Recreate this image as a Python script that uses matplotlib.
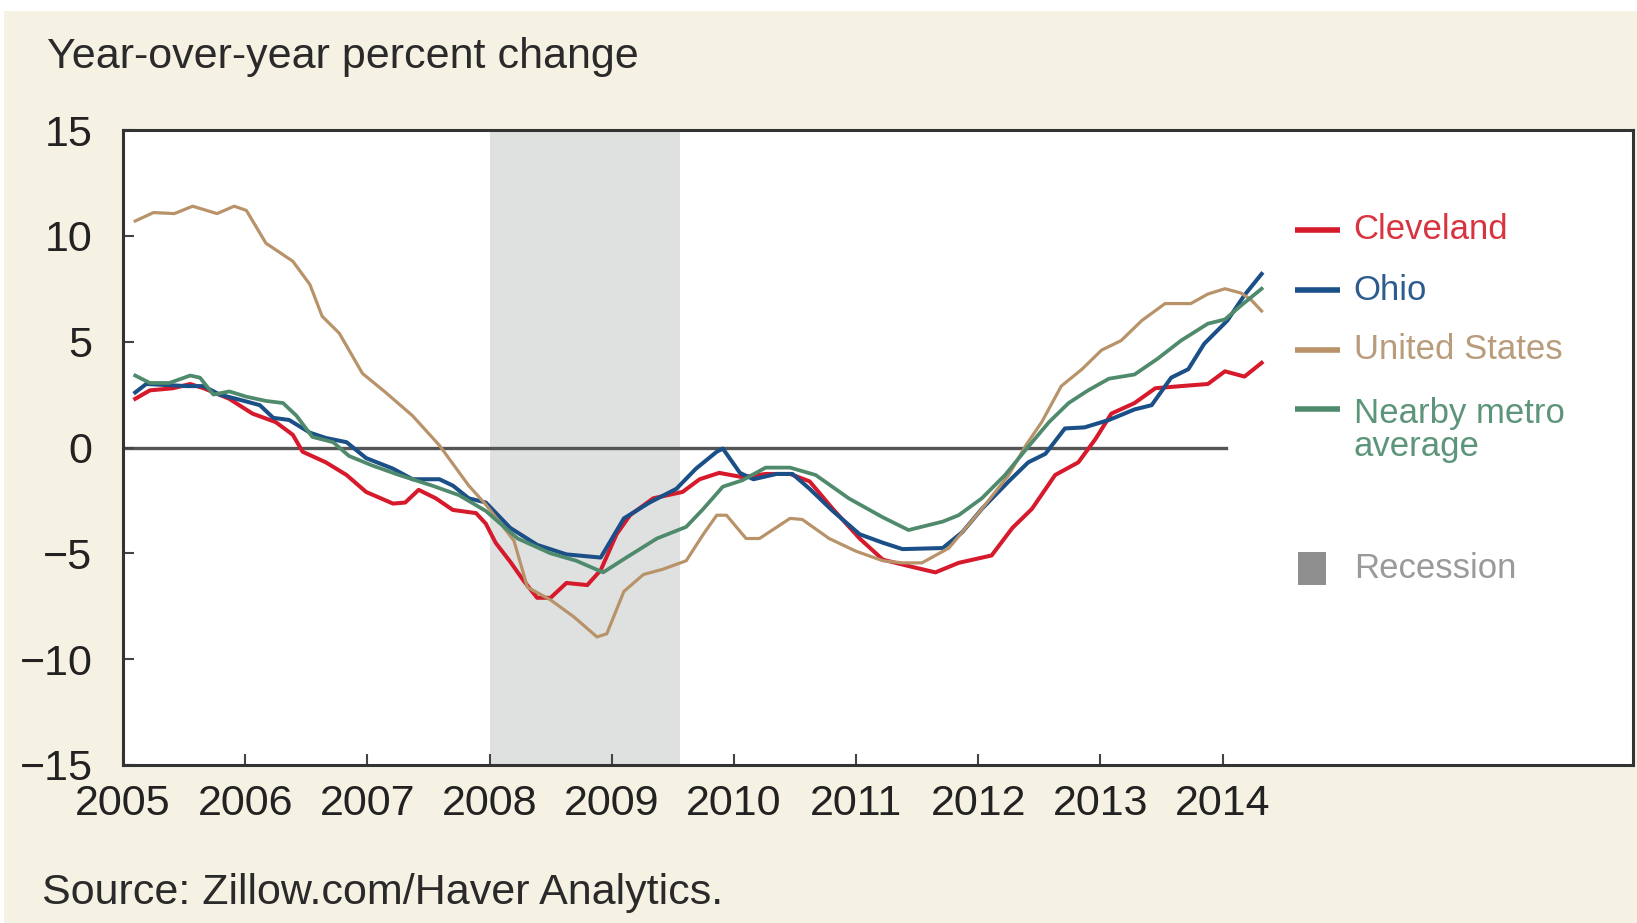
import matplotlib.pyplot as plt
from matplotlib.patches import Rectangle

# decimal years and year-over-year % change
cle_x = [2005.10, 2005.22, 2005.41, 2005.55, 2005.66, 2005.87, 2006.06, 2006.25, 2006.39, 2006.47,
         2006.66, 2006.83, 2006.99, 2007.21, 2007.31, 2007.42, 2007.56, 2007.70, 2007.89, 2007.97,
         2008.05, 2008.17, 2008.28, 2008.39, 2008.50, 2008.63, 2008.80, 2008.91, 2009.04, 2009.15,
         2009.34, 2009.58, 2009.72, 2009.88, 2010.07, 2010.26, 2010.46, 2010.62, 2010.81, 2011.03,
         2011.22, 2011.43, 2011.65, 2011.84, 2012.11, 2012.28, 2012.44, 2012.63, 2012.82, 2012.96,
         2013.09, 2013.28, 2013.45, 2013.66, 2013.88, 2014.02, 2014.18, 2014.32]
cle_y = [2.3, 2.7, 2.8, 3.0, 2.8, 2.3, 1.6, 1.2, 0.6, -0.2,
         -0.7, -1.3, -2.1, -2.65, -2.6, -2.0, -2.4, -2.95, -3.1, -3.6,
         -4.5, -5.4, -6.3, -7.1, -7.1, -6.4, -6.5, -5.8, -4.1, -3.2,
         -2.4, -2.1, -1.5, -1.2, -1.4, -1.25, -1.25, -1.6, -2.9, -4.3,
         -5.3, -5.6, -5.9, -5.45, -5.1, -3.8, -2.9, -1.3, -0.7, 0.4,
         1.6, 2.1, 2.8, 2.9, 3.0, 3.6, 3.35, 4.0]

ohio_x = [2005.10, 2005.19, 2005.36, 2005.52, 2005.66, 2005.79, 2005.96, 2006.12, 2006.23, 2006.36,
          2006.53, 2006.66, 2006.83, 2006.99, 2007.21, 2007.37, 2007.59, 2007.70, 2007.83, 2007.97,
          2008.17, 2008.39, 2008.63, 2008.91, 2009.10, 2009.31, 2009.53, 2009.69, 2009.86, 2009.91,
          2010.05, 2010.16, 2010.35, 2010.48, 2010.62, 2010.81, 2011.03, 2011.22, 2011.38, 2011.71,
          2011.87, 2012.03, 2012.25, 2012.41, 2012.55, 2012.71, 2012.87, 2013.07, 2013.28, 2013.42,
          2013.58, 2013.72, 2013.85, 2014.04, 2014.18, 2014.32]
ohio_y = [2.6, 3.0, 2.95, 2.9, 2.9, 2.5, 2.25, 2.0, 1.4, 1.3,
          0.7, 0.45, 0.25, -0.5, -1.0, -1.5, -1.5, -1.8, -2.4, -2.6,
          -3.8, -4.6, -5.05, -5.2, -3.35, -2.6, -1.95, -1.0, -0.2, -0.05,
          -1.2, -1.5, -1.25, -1.25, -1.95, -3.0, -4.1, -4.5, -4.8, -4.75,
          -4.0, -2.9, -1.6, -0.7, -0.3, 0.9, 0.95, 1.3, 1.8, 2.0,
          3.3, 3.7, 4.9, 6.0, 7.2, 8.2]

us_x = [2005.10, 2005.25, 2005.42, 2005.57, 2005.77, 2005.91, 2006.01, 2006.17, 2006.39, 2006.53,
        2006.63, 2006.77, 2006.96, 2007.15, 2007.37, 2007.59, 2007.83, 2007.97, 2008.20, 2008.31,
        2008.50, 2008.69, 2008.88, 2008.96, 2009.10, 2009.26, 2009.42, 2009.61, 2009.75, 2009.86,
        2009.94, 2010.10, 2010.21, 2010.46, 2010.56, 2010.78, 2011.00, 2011.22, 2011.38, 2011.54,
        2011.76, 2012.03, 2012.25, 2012.39, 2012.52, 2012.68, 2012.85, 2013.01, 2013.17, 2013.34,
        2013.53, 2013.74, 2013.88, 2014.02, 2014.15, 2014.23, 2014.32]
us_y = [10.7, 11.1, 11.05, 11.4, 11.05, 11.4, 11.2, 9.65, 8.8, 7.7,
        6.2, 5.4, 3.5, 2.6, 1.5, 0.1, -1.8, -2.7, -4.4, -6.6,
        -7.2, -8.0, -8.95, -8.8, -6.8, -6.0, -5.75, -5.35, -4.1, -3.2,
        -3.2, -4.3, -4.3, -3.35, -3.4, -4.3, -4.9, -5.35, -5.45, -5.45,
        -4.75, -2.9, -1.3, 0.1, 1.2, 2.9, 3.7, 4.6, 5.05, 6.0,
        6.8, 6.8, 7.25, 7.5, 7.3, 7.0, 6.45]

metro_x = [2005.10, 2005.22, 2005.38, 2005.55, 2005.63, 2005.74, 2005.87, 2006.01, 2006.17, 2006.31,
           2006.42, 2006.55, 2006.72, 2006.85, 2007.04, 2007.26, 2007.53, 2007.75, 2007.97, 2008.23,
           2008.50, 2008.71, 2008.93, 2009.12, 2009.37, 2009.61, 2009.75, 2009.91, 2010.07, 2010.26,
           2010.46, 2010.67, 2010.94, 2011.22, 2011.43, 2011.71, 2011.84, 2012.03, 2012.22, 2012.39,
           2012.58, 2012.74, 2012.90, 2013.07, 2013.28, 2013.47, 2013.66, 2013.88, 2014.02, 2014.15,
           2014.32]
metro_y = [3.4, 3.05, 3.05, 3.4, 3.3, 2.5, 2.65, 2.4, 2.2, 2.1,
           1.5, 0.5, 0.25, -0.4, -0.85, -1.3, -1.8, -2.25, -3.0, -4.3,
           -5.0, -5.35, -5.9, -5.2, -4.3, -3.75, -2.9, -1.85, -1.55, -0.95,
           -0.95, -1.3, -2.4, -3.3, -3.9, -3.5, -3.2, -2.4, -1.3, -0.1,
           1.2, 2.1, 2.7, 3.25, 3.45, 4.2, 5.05, 5.85, 6.05, 6.7,
           7.5]

recession = (2008.0, 2009.56)
zero_end = 2014.03
year_ticks = list(range(2005, 2015))
y_ticks = [-15, -10, -5, 0, 5, 10, 15]

labels = ['Cleveland', 'Ohio', 'United States', 'Nearby metro\naverage']
colors = ['#d61a2c', '#1b4f87', '#b8936a', '#4f8a6c']
text_colors = ['#d8343f', '#2d5c8e', '#b89c7c', '#5d957a']

font = ['Liberation Sans', 'DejaVu Sans']

fig = plt.figure(figsize=(16.37, 9.23), dpi=100, facecolor='white')
fig.patches.append(Rectangle((4 / 1637, 0), 1, 1 - 11 / 923, transform=fig.transFigure,
                             facecolor='#f5f1e3', edgecolor='none', zorder=-10))

ax = fig.add_axes([123 / 1637, 1 - 765 / 923, 1510 / 1637, 635 / 923])
ax.set_facecolor('white')

ax.axvspan(recession[0], recession[1], color='#dfe1e1', zorder=0, lw=0)
ax.plot([2005.0, zero_end], [0, 0], color='#555555', lw=2.4, zorder=1)

series = [(cle_x, cle_y), (ohio_x, ohio_y), (us_x, us_y), (metro_x, metro_y)]
widths = [2.9, 2.9, 2.3, 2.7]
order = [2, 3, 1, 0]
for i in order:
    ax.plot(series[i][0], series[i][1], color=colors[i], lw=widths[i], zorder=3 + i)

ax.set_xlim(2005.04, 2017.36)
ax.set_ylim(-15, 15)
ax.set_xticks(year_ticks)
ax.set_xticklabels([str(y) for y in year_ticks], family=font, fontsize=31, color='#222222')
ax.set_yticks(y_ticks)
ax.set_yticklabels([str(v).replace('-', '\u2212') for v in y_ticks], family=font,
                   fontsize=31, color='#222222')
ax.tick_params(axis='both', direction='in', length=8, width=1.5, color='#444444')
ax.tick_params(axis='x', pad=14)
ax.tick_params(axis='y', pad=22)
for s in ax.spines.values():
    s.set_color('#333333')
    s.set_linewidth(2.2)

# legend drawn by hand, text in series colour
leg_y = [0.843, 0.748, 0.654, 0.527]
line_y = [0.843, 0.748, 0.654, 0.561]
for lab, c, tc, ty, ly in zip(labels, colors, text_colors, leg_y, line_y):
    ax.plot([0.776, 0.806], [ly, ly], transform=ax.transAxes, color=c, lw=4, zorder=10,
            solid_capstyle='butt')
    ax.text(0.815, ty, lab, transform=ax.transAxes, color=tc, fontsize=25, family=font,
            va='center', ha='left', linespacing=1.0)
ax.add_patch(Rectangle((0.778, 0.283), 0.019, 0.052, transform=ax.transAxes,
                       facecolor='#8f8f8f', edgecolor='none', zorder=10))
ax.text(0.815, 0.309, 'Recession', transform=ax.transAxes, color='#9a9a9a', fontsize=25,
        family=font, va='center', ha='left')

fig.text(47 / 1637, 0.938, 'Year-over-year percent change', fontsize=31, family=font,
         color='#2a2a2a', va='center', ha='left')
fig.text(42 / 1637, 0.033, 'Source: Zillow.com/Haver Analytics.', fontsize=31, family=font,
         color='#2a2a2a', va='center', ha='left')

fig.savefig('out.png', dpi=100, facecolor=fig.get_facecolor())
